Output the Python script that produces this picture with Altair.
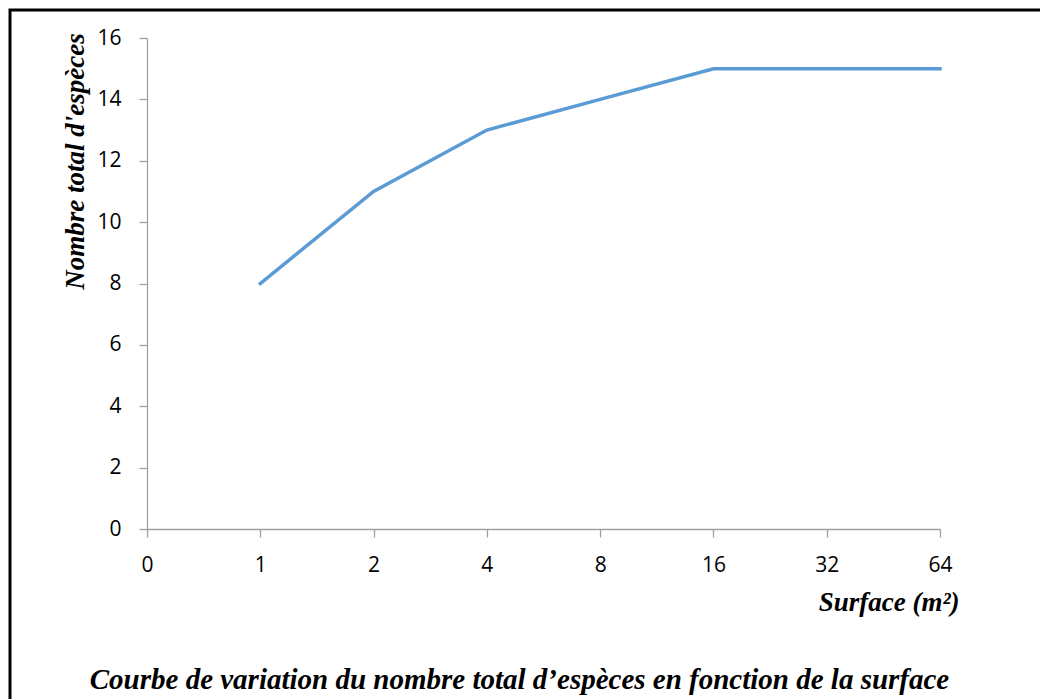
import altair as alt
import pandas as pd

# Data
surface_labels = ["0", "1", "2", "4", "8", "16", "32", "64"]
point_surfaces = ["1", "2", "4", "8", "16", "32", "64"]
species_counts = [8, 11, 13, 14, 15, 15, 15]
y_ticks = [0, 2, 4, 6, 8, 10, 12, 14, 16]

df = pd.DataFrame({"surface": point_surfaces, "especes": species_counts})

W, H = 793, 491
AXIS_GRAY = "#a0a0a0"
SERIF = "Liberation Serif"
SANS = "Open Sans"

x_enc = alt.X(
    "surface:O",
    sort=surface_labels,
    scale=alt.Scale(type="point", domain=surface_labels, padding=0),
    axis=alt.Axis(
        title="Surface (m²)",
        titleFont=SERIF, titleFontStyle="italic", titleFontWeight="bold",
        titleFontSize=27, titleColor="black",
        titleAlign="right", titleBaseline="alphabetic",
        titleX=812, titleY=81,
        labelFont=SANS, labelFontSize=21, labelColor="black",
        labelPadding=17, labelAngle=0,
        domainColor=AXIS_GRAY, tickColor=AXIS_GRAY, tickSize=8,
        domainWidth=1.3, tickWidth=1.3, grid=False,
    ),
)
y_enc = alt.Y(
    "especes:Q",
    scale=alt.Scale(domain=[0, 16], nice=False),
    axis=alt.Axis(
        title="Nombre total d'espèces",
        titleFont=SERIF, titleFontStyle="italic", titleFontWeight="bold",
        titleFontSize=27, titleColor="black",
        titleAngle=270, titleAlign="center", titleBaseline="alphabetic",
        titleX=-64, titleY=123,
        values=y_ticks,
        labelFont=SANS, labelFontSize=21, labelColor="black",
        labelPadding=18,
        domainColor=AXIS_GRAY, tickColor=AXIS_GRAY, tickSize=8,
        domainWidth=1.3, tickWidth=1.3, grid=False,
    ),
)

line = alt.Chart(df).mark_line(color="#5B9BD5", strokeWidth=3.5, strokeCap="square").encode(
    x=x_enc, y=y_enc
)

frame = alt.Chart(pd.DataFrame({"f": [0]})).mark_rect(
    fill=None, stroke="black", strokeWidth=3
).encode(
    x=alt.value(-137), x2=alt.value(910), y=alt.value(-28), y2=alt.value(680)
)

chart = alt.layer(frame, line).properties(
    width=W,
    height=H,
    title=alt.Title(
        "Courbe de variation du nombre total d’espèces en fonction de la surface",
        orient="bottom", anchor="middle", frame="group", baseline="alphabetic",
        font=SERIF, fontStyle="italic", fontWeight="bold", fontSize=29,
        color="black", offset=-31, dx=-24,
    ),
    autosize=alt.AutoSizeParams(type="none"),
    padding={"left": 139, "top": 30, "right": 100, "bottom": 170},
).configure_view(stroke=None)

chart.save("out.html", embed_options={"renderer": "svg", "actions": False})
